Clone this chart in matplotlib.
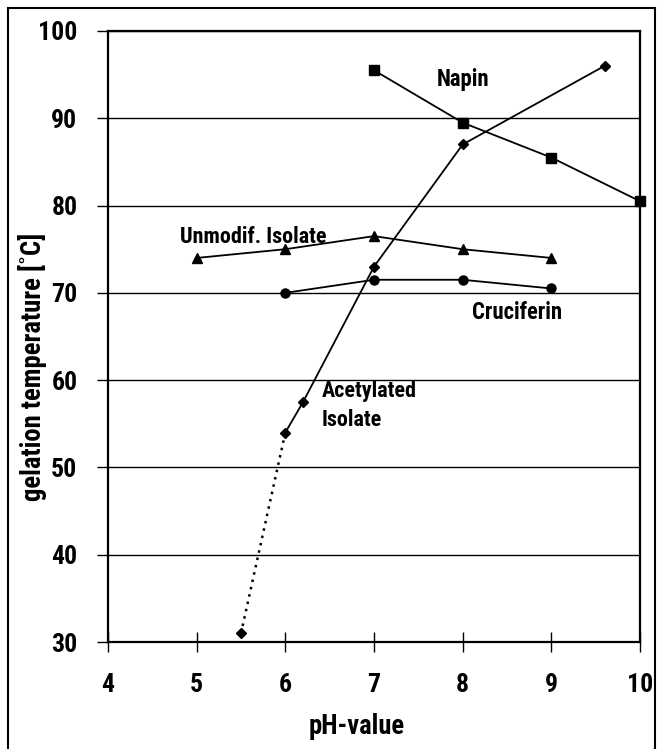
import matplotlib
matplotlib.use("Agg")
import matplotlib.pyplot as plt
from matplotlib import font_manager as fm
from matplotlib.patches import Rectangle

names = {f.name for f in fm.fontManager.ttflist}
fam = None
for cand in ["Liberation Sans Narrow", "Roboto Condensed", "DejaVu Sans Condensed", "Liberation Sans"]:
    if cand in names:
        fam = cand
        break
plt.rcParams['font.family'] = [fam, 'DejaVu Sans']
plt.rcParams['font.weight'] = 'bold'

# Data
napin_x = [7, 8, 9, 10]
napin_y = [95.5, 89.5, 85.5, 80.5]
unmod_x = [5, 6, 7, 8, 9]
unmod_y = [74, 75, 76.5, 75, 74]
cruc_x = [6, 7, 8, 9]
cruc_y = [70, 71.5, 71.5, 70.5]
acet_x = [6, 6.2, 7, 8, 9.6]
acet_y = [54, 57.5, 73, 87, 96]
acet_dot_x = [5.5, 6]
acet_dot_y = [31, 54]
xticks = [4, 5, 6, 7, 8, 9, 10]
yticks = [30, 40, 50, 60, 70, 80, 90, 100]

W, H = 660, 749
fig = plt.figure(figsize=(W/100, H/100), dpi=100)
ax = fig.add_axes([108/W, 1-642/H, (640-108)/W, (642-31)/H])

ax.set_xlim(4, 10)
ax.set_ylim(30, 100)
for y in yticks[1:]:
    ax.axhline(y, color='black', lw=1.0, zorder=1)

lw = 1.3
ax.plot(acet_dot_x, acet_dot_y, color='black', lw=1.8, ls=(0, (1, 2)), zorder=2)
ax.plot(acet_dot_x[:1], acet_dot_y[:1], marker='D', ms=5.5, color='black', ls='none', zorder=3, clip_on=False)
ax.plot(acet_x, acet_y, color='black', lw=lw, marker='D', ms=5.5, zorder=3, clip_on=False)
ax.plot(napin_x, napin_y, color='black', lw=lw, marker='s', ms=6.5, zorder=3, clip_on=False)
ax.plot(unmod_x, unmod_y, color='black', lw=lw, marker='^', ms=7, zorder=3, clip_on=False)
ax.plot(cruc_x, cruc_y, color='black', lw=lw, marker='o', ms=6.5, zorder=3, clip_on=False)

fs = 16
t_napin = ax.text(8.0, 94.5, "Napin", fontsize=fs, ha='center', va='center', fontweight='bold')
t_unmod = ax.text(5.64, 76.4, "Unmodif. Isolate", fontsize=fs, ha='center', va='center', fontweight='bold')
t_cruc = ax.text(8.61, 67.7, "Cruciferin", fontsize=fs, ha='center', va='center', fontweight='bold')
t_acet1 = ax.text(6.41, 58.8, "Acetylated", fontsize=fs, ha='left', va='center', fontweight='bold')
t_acet2 = ax.text(6.41, 55.4, "Isolate", fontsize=fs, ha='left', va='center', fontweight='bold')

ax.set_xticks(xticks)
ax.set_yticks(yticks)
ax.set_xticklabels([str(v) for v in xticks], fontsize=18.5, fontweight='bold')
ax.set_yticklabels([str(v) for v in yticks], fontsize=18.5, fontweight='bold')
ax.tick_params(axis='x', direction='inout', length=15, width=1.0, pad=15)
ax.tick_params(axis='y', direction='out', length=8, width=1.0, pad=14)
for s in ax.spines.values():
    s.set_color('black')
    s.set_linewidth(1.6)
ax.set_xlabel("pH-value", fontsize=19, fontweight='bold')
ax.set_ylabel("gelation temperature [˚C]", fontsize=19, fontweight='bold')
ax.xaxis.set_label_coords((357-108)/532, (642-727)/611)
ax.yaxis.set_label_coords((33-108)/532, (642-367)/611)
ax.xaxis.label.set_va('center')
ax.yaxis.label.set_va('center')

# fit text sizes to the widths measured on the reference (pixels)
renderer = fig.canvas.get_renderer()
def fit(t, target, vertical=False):
    bb = t.get_window_extent(renderer)
    cur = bb.height if vertical else bb.width
    t.set_fontsize(t.get_fontsize() * target / cur)

fit(t_napin, 53)
fit(t_unmod, 147)
fit(t_cruc, 90)
fit(t_acet1, 95)
t_acet2.set_fontsize(t_acet1.get_fontsize())
fit(ax.xaxis.label, 96)
fit(ax.yaxis.label, 268, vertical=True)

fig.patches.append(Rectangle((8/W, -0.01), (655-8)/W, 1.01-8/H, transform=fig.transFigure,
                             fill=False, edgecolor='black', lw=1.5))

fig.savefig("out.png", dpi=100)
